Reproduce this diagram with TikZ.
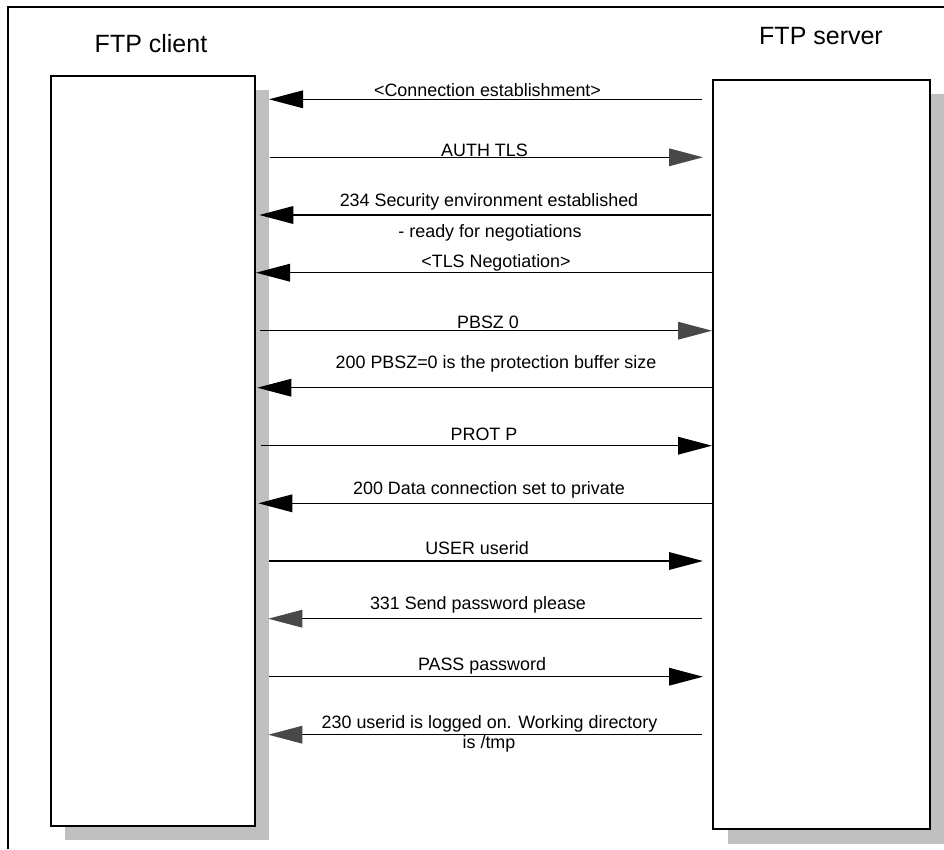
\documentclass[tikz,border=0pt]{standalone}
\usepackage{fontspec}
\setmainfont{Liberation Sans}
\usetikzlibrary{arrows.meta}
\definecolor{shadowgray}{HTML}{C0C0C0}
\definecolor{headgray}{HTML}{484848}
\begin{document}
\begin{tikzpicture}[x=1pt,y=-1pt,
  boxstyle/.style={draw=black,line width=1.6pt,fill=white,rectangle,inner sep=0pt,anchor=north west},
  msg/.style={line width=1.4pt,-{Triangle[length=34pt,width=17.6pt]}},
  msggray/.style={line width=1.4pt,-{Triangle[length=34pt,width=17.6pt,color=headgray]}},
  lbl/.style={font=\fontsize{17.9}{20}\selectfont,anchor=base,inner sep=0pt,align=center},
  ttl/.style={font=\fontsize{25}{30}\selectfont,anchor=base,inner sep=0pt}]
\useasboundingbox (0,0) rectangle (944,849);
% frame
\draw[line width=1.7pt] (8,849) -- (8,7) -- (944,7);
% titles
\node[ttl] (tclient) at (151,52) {FTP client};
\node[ttl] (tserver) at (821,44) {FTP server};
% shadows
\fill[shadowgray] (65,90) rectangle (269,839.5);
\fill[shadowgray] (728,94) rectangle (944,843.5);
% boxes
\node[boxstyle,minimum width=204pt,minimum height=750pt] (client) at (50,75) {};
\node[boxstyle,minimum width=217pt,minimum height=749pt] (server) at (712,79) {};
% 1
\coordinate (s1) at (702,99.3); \coordinate (c1) at (269,99.3);
\draw[msg] (s1) -- (c1);
\node[lbl] (l1) at (487.5,96.5) {<Connection establishment>};
% 2
\coordinate (c2) at (270,157.3); \coordinate (s2) at (703,157.3);
\draw[msggray] (c2) -- (s2);
\node[lbl] (l2) at (484.5,156) {AUTH TLS};
% 3
\coordinate (s3) at (711,215); \coordinate (c3) at (259.3,215);
\draw[msg] (s3) -- (c3);
\node[lbl] (l3) at (489,206.7) {234 Security environment established};
\node[lbl] (l3b) at (490,237) {- ready for negotiations};
% 4
\coordinate (s4) at (714,272.7); \coordinate (c4) at (256,272.7);
\draw[msg] (s4) -- (c4);
\node[lbl] (l4) at (496,267.7) {<TLS Negotiation>};
% 5
\coordinate (c5) at (260,330.7); \coordinate (s5) at (712,330.7);
\draw[msggray] (c5) -- (s5);
\node[lbl] (l5) at (488,328.3) {PBSZ 0};
% 6
\coordinate (s6) at (712,387.7); \coordinate (c6) at (257.3,387.7);
\draw[msg] (s6) -- (c6);
\node[lbl] (l6) at (496,368.3) {200 PBSZ=0 is the protection buffer size};
% 7
\coordinate (c7) at (260.7,445.7); \coordinate (s7) at (712,445.7);
\draw[msg] (c7) -- (s7);
\node[lbl] (l7) at (484,440.7) {PROT P};
% 8
\coordinate (s8) at (712,503.3); \coordinate (c8) at (258.3,503.3);
\draw[msg] (s8) -- (c8);
\node[lbl] (l8) at (489,494) {200 Data connection set to private};
% 9
\coordinate (c9) at (269.3,561); \coordinate (s9) at (703,561);
\draw[msg] (c9) -- (s9);
\node[lbl] (l9) at (477,554.7) {USER userid};
% 10
\coordinate (s10) at (702,618.7); \coordinate (c10) at (268.3,618.7);
\draw[msggray] (s10) -- (c10);
\node[lbl] (l10) at (478,609) {331 Send password please};
% 11
\coordinate (c11) at (269.3,676.7); \coordinate (s11) at (703,676.7);
\draw[msg] (c11) -- (s11);
\node[lbl] (l11) at (482,670.7) {PASS password};
% 12
\coordinate (s12) at (702,734.7); \coordinate (c12) at (268.3,734.7);
\draw[msggray] (s12) -- (c12);
\node[lbl] (l12) at (489.5,728) {230 userid is logged on. Working directory};
\node[lbl] (l12b) at (489,748) {is /tmp};
\end{tikzpicture}
\end{document}
